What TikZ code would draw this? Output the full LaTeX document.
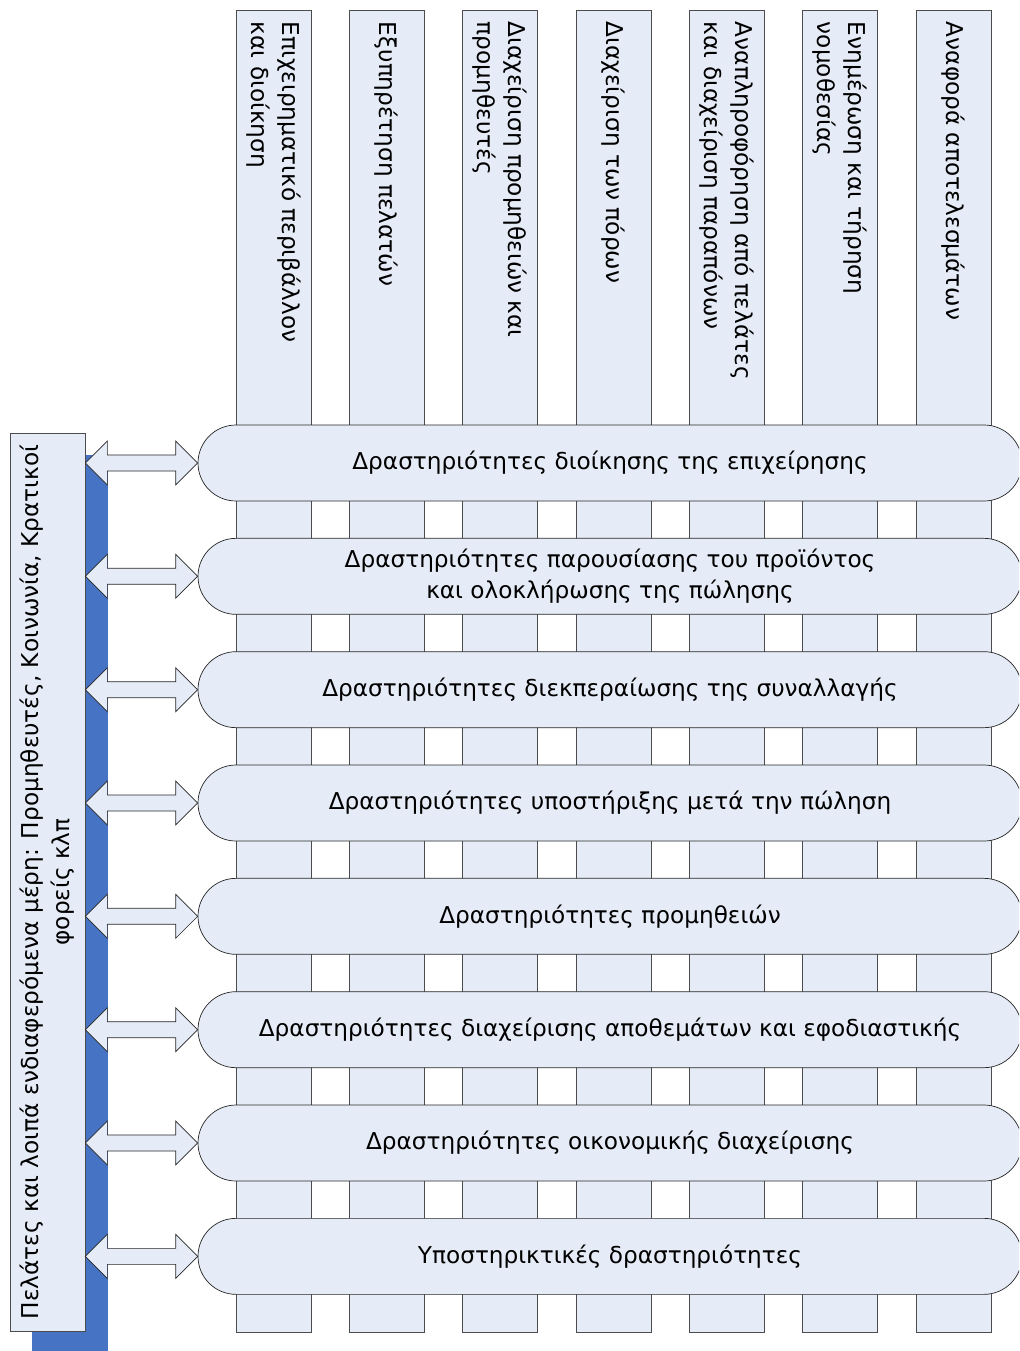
\documentclass[tikz,border=0pt]{standalone}
\usepackage{fontspec}
\setmainfont{DejaVu Sans}
\usetikzlibrary{calc}

\definecolor{paleblue}{HTML}{E6ECF7}
\definecolor{shadowblue}{HTML}{4673C3}
\newcommand\lanefont{\fontsize{13.2}{17.5}\selectfont}

\begin{document}
\begin{tikzpicture}[
        lane/.style={rectangle, draw=black!70, fill=paleblue, minimum width=1.5cm, minimum height=26.44cm, inner sep=0pt},
        lanetext/.style={rotate=-90, anchor=west, align=left, inner sep=0pt, font=\lanefont},
        activity/.style={rectangle, draw=black!85, fill=paleblue, rounded corners=0.76cm, minimum width=16.48cm, minimum height=1.52cm, align=center, font=\lanefont},
        party/.style={rectangle, draw=black!70, fill=paleblue, rotate=90, minimum width=17.96cm, minimum height=1.5cm, align=center, inner sep=0pt, font=\lanefont},
        twoway/.style={draw=black!85, fill=paleblue, line join=miter},
    ]
        \useasboundingbox (0,0) rectangle (20.38,-27.02);
        \clip (0,0) rectangle (20.38,-27.02);

        % Vertical lanes
        \foreach \i/\txt in {
            1/{Επιχειρηματικό περιβάλλον\\και διοίκηση},
            2/{Εξυπηρέτηση πελατών},
            3/{Διαχείριση προμηθειών και\\προμηθευτές},
            4/{Διαχείριση των πόρων},
            5/{Αναπληροφόρηση από πελάτες\\και διαχείριση παραπόνων},
            6/{Ενημέρωση και τήρηση\\νομοθεσίας},
            7/{Αναφορά αποτελεσμάτων}} {
            \node[lane] (lane\i) at ({5.47+2.2667*(\i-1)}, -13.42) {};
            \node[lanetext] (lanelabel\i) at ($(lane\i.north)+(0,-0.24)$) {\txt};
        }

        % Activity bars
        \foreach \i/\txt in {
            1/{Δραστηριότητες διοίκησης της επιχείρησης},
            2/{Δραστηριότητες παρουσίασης του προϊόντος\\και ολοκλήρωσης της πώλησης},
            3/{Δραστηριότητες διεκπεραίωσης της συναλλαγής},
            4/{Δραστηριότητες υποστήριξης μετά την πώληση},
            5/{Δραστηριότητες προμηθειών},
            6/{Δραστηριότητες διαχείρισης αποθεμάτων και εφοδιαστικής},
            7/{Δραστηριότητες οικονομικής διαχείρισης},
            8/{Υποστηρικτικές δραστηριότητες}} {
            \node[activity] (act\i) at (12.2, {-9.26-2.2667*(\i-1)}) {\txt};
        }

        % Stakeholders box with its shadow
        \fill[shadowblue] (0.64,-9.1) rectangle (2.16,-27.1);
        \node[party] (party) at (0.95,-17.64) {Πελάτες και λοιπά ενδιαφερόμενα μέρη: Προμηθευτές, Κοινωνία, Κρατικοί\\φορείς κλπ};

        % Two-way arrows
        \foreach \i in {1,...,8} {
            \coordinate (tip\i) at (party.south |- act\i.west);
            \draw[twoway] (tip\i) -- ++(0.44,0.44) -- ++(0,-0.28)
                -- ($(act\i.west)+(-0.44,0.16)$) -- ++(0,0.28) -- (act\i.west)
                -- ++(-0.44,-0.44) -- ++(0,0.28)
                -- ($(tip\i)+(0.44,-0.16)$) -- ++(0,-0.28) -- cycle;
        }

    \end{tikzpicture}
\end{document}
